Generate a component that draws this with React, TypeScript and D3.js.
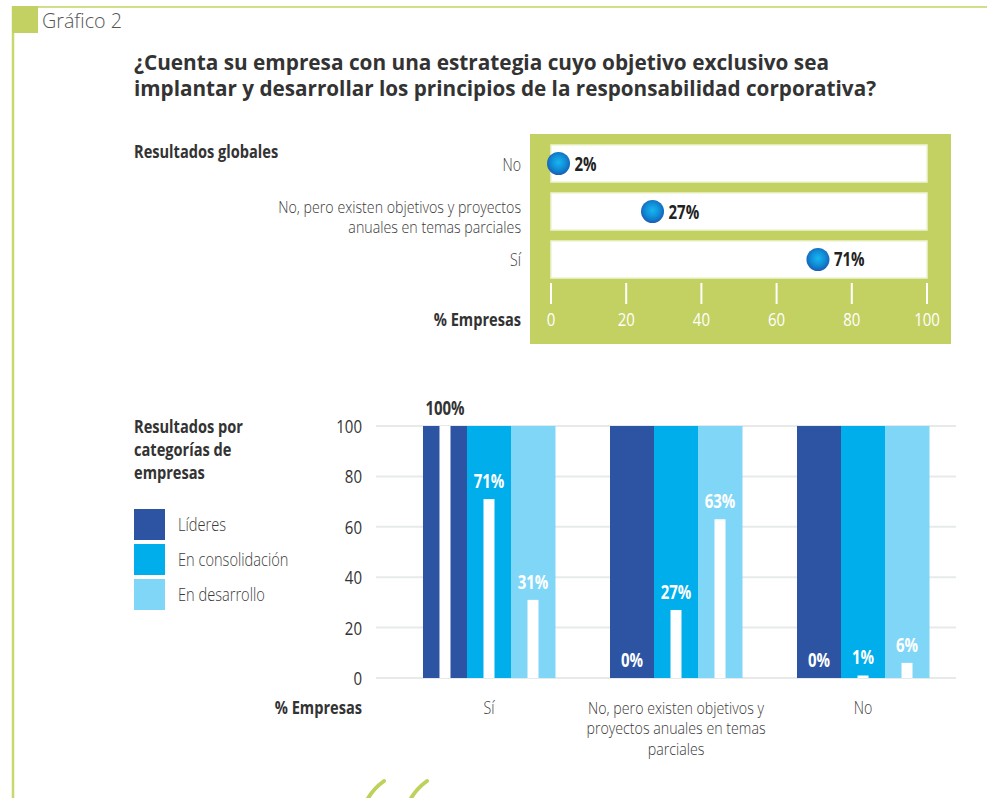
import React from "react";
import * as d3 from "d3";

const globalCategories = ["No", "No, pero existen objetivos y proyectos anuales en temas parciales", "Sí"];
const globalLabelLines = [["No"], ["No, pero existen objetivos y proyectos", "anuales en temas parciales"], ["Sí"]];
const globalValues = [2, 27, 71];
const globalTicks = [0, 20, 40, 60, 80, 100];

const groupCategories = ["Sí", "No, pero existen objetivos y proyectos anuales en temas parciales", "No"];
const groupLabelLines = [["Sí"], ["No, pero existen objetivos y", "proyectos anuales en temas", "parciales"], ["No"]];
const seriesNames = ["Líderes", "En consolidación", "En desarrollo"];
const lideres = [100, 0, 0];
const consolidacion = [71, 27, 1];
const desarrollo = [31, 63, 6];
const barTicks = [0, 20, 40, 60, 80, 100];

const seriesColors = ["#2d54a2", "#00aeeb", "#80d6f7"];
const SANS = "'Open Sans', 'Noto Sans', sans-serif";
const GREEN = "#c3d163";
const SX = 0.79;

type TProps = {
  x: number;
  y: number;
  anchor?: "start" | "middle" | "end";
  size?: number;
  weight?: number;
  fill?: string;
  sx?: number;
  lh?: number;
  lines: (string | number)[];
};

function T({ x, y, anchor = "start", size = 18, weight = 400, fill = "#333", sx = SX, lh = 20, lines }: TProps) {
  return (
    <text
      transform={`translate(${x},${y}) scale(${sx},1)`}
      textAnchor={anchor}
      fontFamily={SANS}
      fontSize={size}
      fontWeight={weight}
      fill={fill}
    >
      {lines.map((l, j) => (
        <tspan key={j} x={0} y={j * lh}>{l}</tspan>
      ))}
    </text>
  );
}

export default function App() {
  const seriesValues = [lideres, consolidacion, desarrollo];

  const gx = d3.scaleLinear().domain([0, 100]).range([551, 927]);
  const gy = d3.scaleBand<string>().domain(globalCategories).range([145, 278]).paddingInner(0.229).paddingOuter(0);

  const x0 = d3.scaleBand<string>().domain(groupCategories).range([395.5, 956.5]).paddingInner(0.2941).paddingOuter(0.147);
  const x1 = d3.scaleBand<string>().domain(seriesNames).range([0, x0.bandwidth()]).padding(0);
  const y = d3.scaleLinear().domain([0, 100]).range([678, 426]);

  const innerW = x1.bandwidth() / 4;
  const multiSize = 16;
  const multiSx = (SX * 18) / multiSize;

  return (
    <div style={{ position: "absolute", left: 0, top: 0 }}>
      <svg width={987} height={798} style={{ display: "block", background: "#fff" }}>
        <defs>
          <radialGradient id="dotGrad" cx="50%" cy="45%" r="55%">
            <stop offset="0%" stopColor="#19b6ee" />
            <stop offset="55%" stopColor="#0f8fd8" />
            <stop offset="100%" stopColor="#1a5db4" />
          </radialGradient>
        </defs>

        {/* frame */}
        <line x1={13} x2={987} y1={7} y2={7} stroke="#d3df88" strokeWidth={2} />
        <line x1={13} x2={13} y1={6} y2={798} stroke="#c8d86a" strokeWidth={2.5} />
        <rect x={12} y={6} width={26} height={27} fill={GREEN} />
        <text x={42} y={28} fontFamily={SANS} fontWeight={300} fontSize={20} fill="#555" textLength={80} lengthAdjust="spacingAndGlyphs">Gráfico 2</text>

        {/* title */}
        <text fontFamily={SANS} fontWeight={700} fontSize={20.5} fill="#333">
          <tspan x={134} y={70} textLength={695} lengthAdjust="spacingAndGlyphs">¿Cuenta su empresa con una estrategia cuyo objetivo exclusivo sea</tspan>
          <tspan x={134} y={96} textLength={742} lengthAdjust="spacingAndGlyphs">implantar y desarrollar los principios de la responsabilidad corporativa?</tspan>
        </text>

        {/* top panel */}
        <T x={134} y={158} weight={700} size={18.5} lines={["Resultados globales"]} />
        <rect x={530} y={134} width={421} height={210} fill={GREEN} />
        {globalCategories.map((c, i) => {
          const yy = gy(c)!;
          const bh = gy.bandwidth();
          const lines = globalLabelLines[i];
          return (
            <g key={c}>
              <rect x={gx(0)} y={yy} width={gx(100) - gx(0)} height={bh} fill="#fff" stroke="#eef3d2" strokeWidth={1.5} />
              <T
                x={521}
                y={lines.length === 1 ? yy + bh / 2 + 7 : yy + bh / 2 + 1}
                anchor="end"
                weight={300}
                size={lines.length === 1 ? 18 : multiSize}
                sx={lines.length === 1 ? SX : multiSx}
                fill="#3a3a3a"
                lh={20.5}
                lines={lines}
              />
              <circle cx={gx(globalValues[i])} cy={yy + bh / 2} r={11.5} fill="url(#dotGrad)" />
              <T x={gx(globalValues[i]) + 16} y={yy + bh / 2 + 7} weight={700} size={19} fill="#222" lines={[`${globalValues[i]}%`]} />
            </g>
          );
        })}
        {globalTicks.map((t) => (
          <g key={t}>
            <line x1={gx(t)} x2={gx(t)} y1={283} y2={304} stroke="#fff" strokeWidth={2} />
            <T x={gx(t)} y={326} anchor="middle" size={19} fill="#fff" lines={[t]} />
          </g>
        ))}
        <T x={521} y={326} anchor="end" weight={700} size={18.5} lines={["% Empresas"]} />

        {/* bar chart */}
        <T x={134} y={433} weight={700} size={18.5} lh={23} lines={["Resultados por", "categorías de", "empresas"]} />
        {seriesNames.map((s, i) => (
          <g key={s}>
            <rect x={134} y={509 + i * 35} width={31} height={31} fill={seriesColors[i]} />
            <T x={178} y={509 + i * 35 + 22} weight={300} size={18.5} fill="#3a3a3a" lines={[s]} />
          </g>
        ))}

        {barTicks.map((t) => (
          <g key={t}>
            <line x1={376} x2={956} y1={y(t)} y2={y(t)} stroke="#e6ebea" strokeWidth={2} />
            <T x={362} y={y(t) + 7} anchor="end" size={19} fill="#333" lines={[t]} />
          </g>
        ))}

        {groupCategories.map((g, gi) => (
          <g key={g} transform={`translate(${x0(g)},0)`}>
            {seriesNames.map((s, si) => {
              const v = seriesValues[si][gi];
              const bx = x1(s)!;
              const top = y(v);
              return (
                <g key={s}>
                  <rect x={bx} y={y(100)} width={x1.bandwidth() + 0.5} height={y(0) - y(100)} fill={seriesColors[si]} />
                  {v > 0 && (
                    <rect x={bx + x1.bandwidth() / 2 - innerW / 2} y={top} width={innerW} height={y(0) - top} fill="#fff" />
                  )}
                  <T
                    x={bx + x1.bandwidth() / 2}
                    y={top - 11}
                    anchor="middle"
                    weight={700}
                    size={19}
                    fill={v >= 100 ? "#333" : "#fff"}
                    lines={[`${v}%`]}
                  />
                </g>
              );
            })}
          </g>
        ))}

        <T x={362} y={714} anchor="end" weight={700} size={18.5} lines={["% Empresas"]} />
        {groupCategories.map((g, gi) => (
          <T
            key={g}
            x={x0(g)! + x0.bandwidth() / 2}
            y={714}
            anchor="middle"
            weight={300}
            size={groupLabelLines[gi].length === 1 ? 18 : multiSize}
            sx={groupLabelLines[gi].length === 1 ? SX : multiSx}
            fill="#3a3a3a"
            lh={20.5}
            lines={groupLabelLines[gi]}
          />
        ))}

        {/* decorative strokes */}
        <path d="M367,800 Q373,789 384,781" fill="none" stroke="#bcd25a" strokeWidth={4} strokeLinecap="round" />
        <path d="M410,800 Q416,789 427,781" fill="none" stroke="#bcd25a" strokeWidth={4} strokeLinecap="round" />
      </svg>
    </div>
  );
}
